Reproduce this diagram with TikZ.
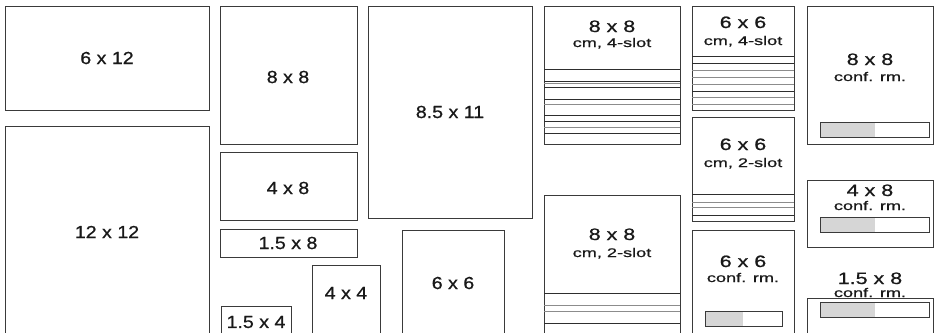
\documentclass[tikz,border=0pt]{standalone}
\usepackage{fontspec}
\newfontfamily\labfont{Liberation Sans}[FakeStretch=1.12,FakeBold=0.8]
\newfontfamily\ttlfont{Liberation Sans}[FakeStretch=1.3,FakeBold=0.8]
\newfontfamily\subfont{Liberation Sans}[FakeStretch=1.45,FakeBold=0.8]
\definecolor{boxc}{HTML}{3A3A3A}
\definecolor{slotd}{HTML}{2E2E2E}
\definecolor{slotg}{HTML}{8C8C8C}
\definecolor{barfill}{HTML}{D6D6D6}
\tikzset{
  box/.style={draw=boxc, line width=0.9pt},
  dline/.style={draw=slotd, line width=0.9pt},
  gline/.style={draw=slotg, line width=0.9pt},
  bigl/.style={inner sep=0pt, font=\labfont\fontsize{17.5}{17.5}\selectfont, text=black!90},
  ttl/.style={inner sep=0pt, anchor=base, font=\ttlfont\fontsize{16.5}{16.5}\selectfont, text=black!90},
  subl/.style={inner sep=0pt, anchor=base, font=\subfont\fontsize{12.5}{12.5}\selectfont, text=black!90},
  barbox/.style={draw=boxc, line width=0.9pt}
}
\begin{document}
\begin{tikzpicture}[x=1pt,y=-1pt]
\useasboundingbox (0,0) rectangle (934,332);
\fill[white] (0,0) rectangle (934,332);
% column 1
\draw[box] (5,6) rectangle (209,110);
\node[bigl] (t612) at (107,58) {6 x 12};
\draw[box] (5,126) -- (209,126) (5,126) -- (5,340) (209,126) -- (209,340);
\node[bigl] (t1212) at (107,232) {12 x 12};
% column 2
\draw[box] (220,6) rectangle (357,144);
\node[bigl] (t88) at (288,77) {8 x 8};
\draw[box] (220,152) rectangle (357,220);
\node[bigl] (t48) at (288,188) {4 x 8};
\draw[box] (220,229) rectangle (357,257);
\node[bigl] (t158) at (288,243) {1.5 x 8};
\draw[box] (312,340) -- (312,265) -- (380,265) -- (380,340);
\node[bigl] (t44) at (346,293) {4 x 4};
\draw[box] (221,340) -- (221,306) -- (291,306) -- (291,340);
\node[bigl] (t154) at (256,322) {1.5 x 4};
% column 3
\draw[box] (368,6) rectangle (532,218);
\node[bigl] (t8511) at (450,112) {8.5 x 11};
\draw[box] (402,340) -- (402,230) -- (504,230) -- (504,340);
\node[bigl] (t66) at (453,283) {6 x 6};
% column 4: 8x8 cm 4-slot
\draw[box] (544,6) rectangle (680,144);
\foreach \y in {69,81,87,99,115,121,133} \draw[dline] (544,\y) -- (680,\y);
\foreach \y in {83,104,127} \draw[gline] (544,\y) -- (680,\y);
\node[ttl] (t88a) at (612,32) {8 x 8};
\node[subl] (s88a) at (612,47) {cm, 4-slot};
% 8x8 cm 2-slot
\draw[box] (544,340) -- (544,195) -- (680,195) -- (680,340);
\foreach \y in {293,323} \draw[dline] (544,\y) -- (680,\y);
\foreach \y in {305,311} \draw[gline] (544,\y) -- (680,\y);
\node[ttl] (t88b) at (612,240) {8 x 8};
\node[subl] (s88b) at (612,257) {cm, 2-slot};
% column 5: 6x6 cm 4-slot
\draw[box] (692,6) rectangle (794,110);
\foreach \y in {56,63,91} \draw[dline] (692,\y) -- (794,\y);
\foreach \y in {70,77,84,97,104} \draw[gline] (692,\y) -- (794,\y);
\node[ttl] (t66a) at (743,28) {6 x 6};
\node[subl] (s66a) at (743,45) {cm, 4-slot};
% 6x6 cm 2-slot
\draw[box] (692,117) rectangle (794,221);
\foreach \y in {194,215} \draw[dline] (692,\y) -- (794,\y);
\foreach \y in {202,207} \draw[gline] (692,\y) -- (794,\y);
\node[ttl] (t66b) at (743,150) {6 x 6};
\node[subl] (s66b) at (743,167) {cm, 2-slot};
% 6x6 conf rm
\draw[box] (692,340) -- (692,230) -- (794,230) -- (794,340);
\fill[barfill] (705,311) rectangle (743,326);
\draw[barbox] (705,311) rectangle (782,326);
\node[ttl] (t66c) at (743,267) {6 x 6};
\node[subl] (s66c) at (743,282) {conf. rm.};
% column 6: 8x8 conf rm
\draw[box] (807,6) rectangle (933,144);
\fill[barfill] (820,122) rectangle (875,137);
\draw[barbox] (820,122) rectangle (929,137);
\node[ttl] (t88c) at (870,65) {8 x 8};
\node[subl] (s88c) at (870,81) {conf. rm.};
% 4x8 conf rm
\draw[box] (807,180) rectangle (933,247);
\fill[barfill] (820,217) rectangle (875,232);
\draw[barbox] (820,217) rectangle (929,232);
\node[ttl] (t48c) at (870,196) {4 x 8};
\node[subl] (s48c) at (870,210) {conf. rm.};
% 1.5x8 conf rm
\draw[box] (807,340) -- (807,298) -- (933,298) -- (933,340);
\fill[barfill] (820,302) rectangle (875,317);
\draw[barbox] (820,302) rectangle (929,317);
\node[ttl] (t158c) at (870,284) {1.5 x 8};
\node[subl] (s158c) at (870,297) {conf. rm.};
\end{tikzpicture}
\end{document}
